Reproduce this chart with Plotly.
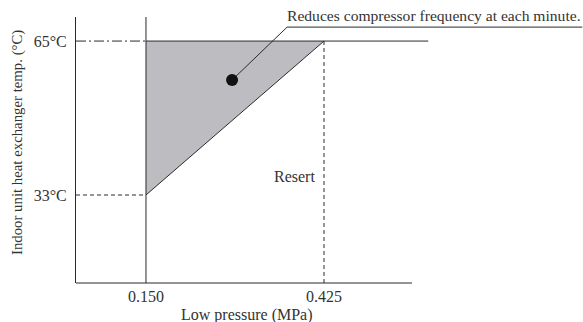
import plotly.graph_objects as go

# ---- data ----
x_tick_vals = [0.150, 0.425]
x_tick_text = ["0.150", "0.425"]
y_tick_vals = [33, 65]
y_tick_text = ["33°C", "65°C"]

p_low, p_high = 0.150, 0.425          # MPa
t_low, t_high = 33, 65                # °C
zone_x = [p_low, p_low, p_high, p_low]
zone_y = [t_low, t_high, t_high, t_low]

dot_x, dot_y = [0.283], [56.9]
leader_x = [0.283, 0.368, 0.824]
leader_y = [56.9, 67.9, 67.9]

x_range = [0.0419, 0.8251]
y_range = [14.71, 70.0]
x_axis_end = 0.561
t_high_line_end = 0.586

label_reduce = "Reduces compressor frequency at each minute."
label_reset = "Resert"
reset_pos = (0.380, 36.9)
x_title = "Low pressure (MPa)"
y_title = "Indoor unit heat exchanger temp. (°C)"

ink = "#2a2a2a"
txt = "#333333"
family = "Liberation Serif, Times New Roman, serif"
font = dict(family=family, size=16, color=txt)
font_note = dict(family=family, size=15.6, color=txt)
font_ytitle = dict(family=family, size=14.8, color=txt)

fig = go.Figure()

# shaded zone
fig.add_trace(go.Scatter(x=zone_x, y=zone_y, fill="toself", fillcolor="#bdbdc1",
                         mode="lines", line=dict(width=0), hoverinfo="skip"))
# diagonal edge
fig.add_trace(go.Scatter(x=[p_low, p_high], y=[t_low, t_high], mode="lines",
                         line=dict(color=ink, width=1)))
# vertical solid line at p_low
fig.add_trace(go.Scatter(x=[p_low, p_low], y=[y_range[0], y_range[1]], mode="lines",
                         line=dict(color=ink, width=1)))
# horizontal solid line at t_high
fig.add_trace(go.Scatter(x=[p_low, t_high_line_end], y=[t_high, t_high], mode="lines",
                         line=dict(color=ink, width=1)))
# dash-dot line at t_high to y-axis
fig.add_trace(go.Scatter(x=[x_range[0], p_low], y=[t_high, t_high], mode="lines",
                         line=dict(color=ink, width=1, dash="10px,3px,2px,3px")))
# dashed line at t_low
fig.add_trace(go.Scatter(x=[x_range[0], p_low], y=[t_low, t_low], mode="lines",
                         line=dict(color=ink, width=1, dash="4px,3px")))
# dashed vertical at p_high
fig.add_trace(go.Scatter(x=[p_high, p_high], y=[y_range[0], t_high], mode="lines",
                         line=dict(color=ink, width=1, dash="4px,3px")))
# leader line + underline
fig.add_trace(go.Scatter(x=leader_x, y=leader_y, mode="lines",
                         line=dict(color=ink, width=1)))
# dot
fig.add_trace(go.Scatter(x=dot_x, y=dot_y, mode="markers",
                         marker=dict(color="#111111", size=12)))

# x axis line (only up to x_axis_end)
fig.add_shape(type="line", xref="x", yref="y domain", x0=x_range[0], x1=x_axis_end,
              y0=0, y1=0, line=dict(color=ink, width=1))

fig.add_annotation(x=leader_x[1], y=leader_y[1], xref="x", yref="y", text=label_reduce,
                   showarrow=False, xanchor="left", yanchor="bottom", font=font_note,
                   xshift=-2, yshift=1)
fig.add_annotation(x=reset_pos[0], y=reset_pos[1], text=label_reset, showarrow=False,
                   xanchor="center", yanchor="middle", font=font)
fig.add_annotation(x=0.306, xref="x", y=0, yref="y domain", text=x_title,
                   showarrow=False, xanchor="center", yanchor="middle",
                   yshift=-32, font=font)
fig.add_annotation(x=0, xref="x domain", y=43.8, yref="y", text=y_title,
                   showarrow=False, textangle=-90, xanchor="center", yanchor="middle",
                   xshift=-59, font=font_ytitle)

fig.update_layout(
    width=583, height=322,
    margin=dict(l=76, r=0, t=17, b=39),
    paper_bgcolor="white", plot_bgcolor="white",
    showlegend=False,
    font=font,
    xaxis=dict(range=x_range, showgrid=False, zeroline=False, showline=False,
               tickvals=x_tick_vals, ticktext=x_tick_text, ticks="",
               tickfont=font, ticklabelstandoff=2),
    yaxis=dict(range=y_range, showgrid=False, zeroline=False, showline=True,
               linecolor=ink, linewidth=1,
               tickvals=y_tick_vals, ticktext=y_tick_text, ticks="",
               tickfont=font, ticklabelstandoff=5),
)

fig.write_html("out.html", config={"displayModeBar": False},
               post_script="document.body.style.margin='0';")
